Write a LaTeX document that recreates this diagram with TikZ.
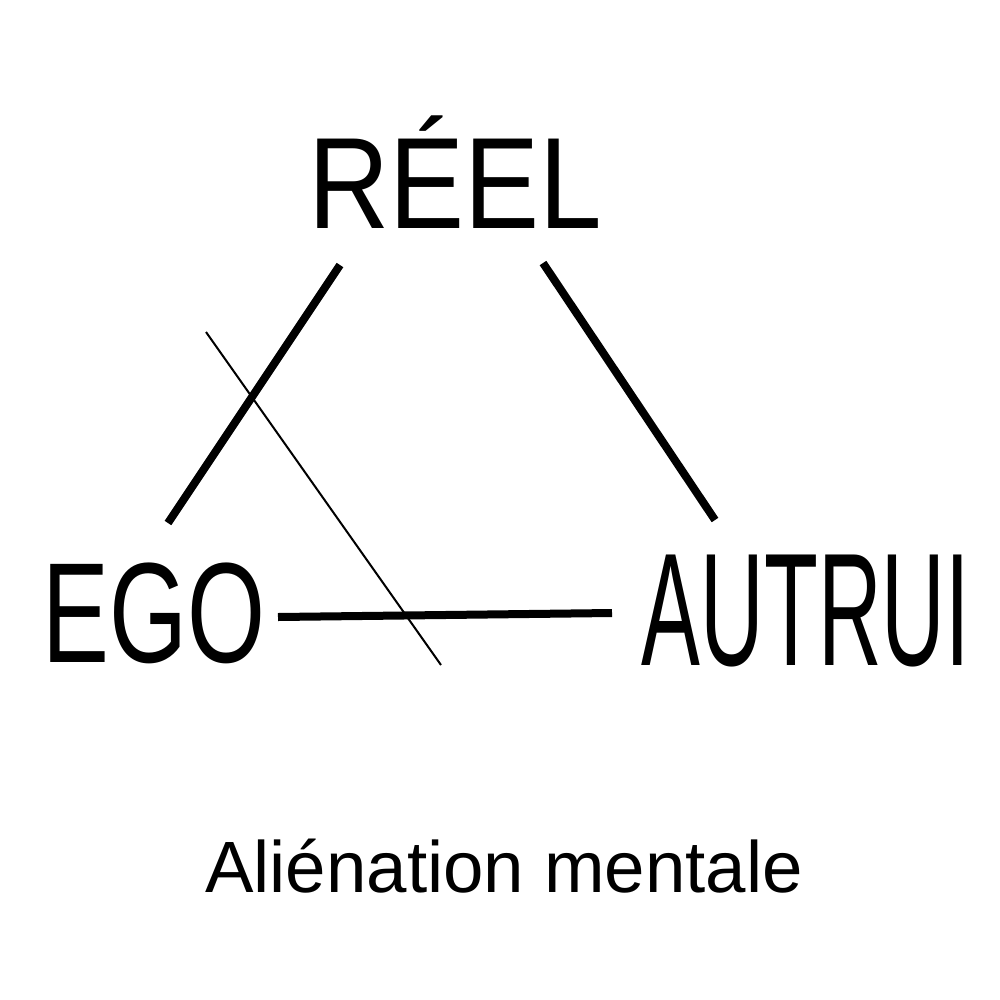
\documentclass[tikz,border=0pt]{standalone}
\usepackage{fontspec}
\setmainfont{Liberation Sans}
\begin{document}
\begin{tikzpicture}[x=0.75pt,y=-0.75pt,
  lbl/.style={inner sep=0pt,outer sep=0pt,anchor=base},
  thickline/.style={line width=6pt,line cap=butt},
  thinline/.style={line width=1.5pt,line cap=butt}]
\useasboundingbox[fill=white] (0,0) rectangle (1000,1000);
\node[lbl] (reel) at (455,228) {\fontsize{97.5}{100}\selectfont\scalebox{0.865}[1]{RÉEL}};
\node[lbl] (ego) at (154,662) {\fontsize{107}{110}\selectfont\scalebox{0.703}[1]{EGO}};
\node[lbl] (autrui) at (806,665) {\fontsize{120.5}{124}\selectfont\scalebox{0.549}[1]{AUTRUI}};
\node[lbl] (title) at (504,892) {\fontsize{54.5}{58}\selectfont Aliénation mentale};
\coordinate (r1) at (340,265);
\coordinate (e1) at (168,523);
\coordinate (r2) at (543,263);
\coordinate (a1) at (715,520);
\coordinate (e2) at (278,617);
\coordinate (a2) at (612,613);
\coordinate (t1) at (206,332);
\coordinate (t2) at (441,665);
\draw[thickline] (r1) -- (e1);
\draw[thickline] (r2) -- (a1);
\draw[thickline] (e2) -- (a2);
\draw[thinline] (t1) -- (t2);
\end{tikzpicture}
\end{document}
